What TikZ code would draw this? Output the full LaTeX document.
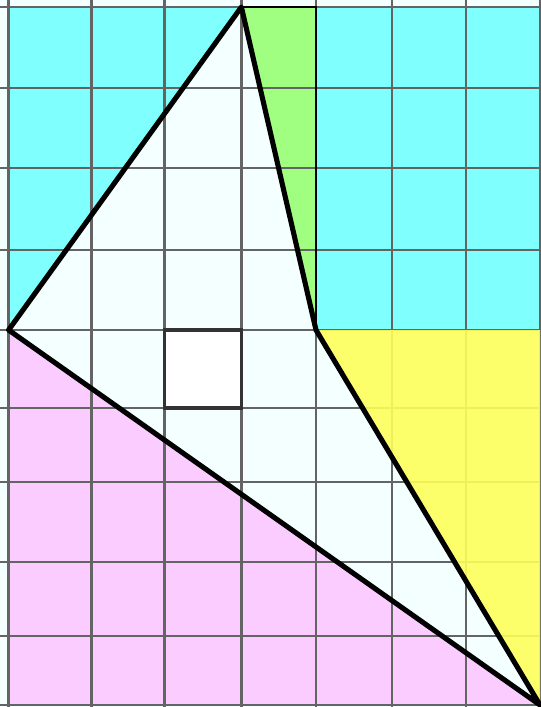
\documentclass[tikz,border=0pt]{standalone}
\usepackage{tikz}

\definecolor{bgazure}{RGB}{244,255,255}
\definecolor{cyanfill}{RGB}{128,255,255}
\definecolor{greenfill}{RGB}{160,255,128}
\definecolor{yellowfill}{RGB}{255,255,90}
\definecolor{pinkfill}{RGB}{250,204,255}
\definecolor{gridgray}{RGB}{100,100,100}

\tikzset{
  gridline/.style={gridgray,line width=1.4pt},
  cutline/.style={black,line width=2.9pt,line join=round},
  edgeline/.style={black,line width=1.4pt}
}

\begin{document}
\begin{tikzpicture}[x=0.02cm,y=-0.02cm]
			\useasboundingbox[fill=bgazure] (0,0) rectangle (541,707);
			
			% corner points
			\coordinate (O) at (8.6,705);
			\coordinate (L) at (8.6,330);
			\coordinate (T) at (241.4,7);
			\coordinate (K) at (316,330);
			\coordinate (R) at (540,705);
			
			\fill[cyanfill] (8.6,7) -- (T) -- (L) -- cycle;
			\fill[cyanfill] (K) rectangle (540,7);
			\fill[greenfill] (T) -- (316,7) -- (K) -- cycle;
			\fill[pinkfill] (L) -- (O) -- (R) -- cycle;
			\fill[white] (164.5,330) rectangle (241.4,408);
			
			\foreach \x in {8.6,91.4,164.5,241.4,316,392,466,540}
			\draw[gridline] (\x,0) -- (\x,707);
			\foreach \y in {7,88,168,250,330,408,482,562,636,705}
			\draw[gridline] (0,\y) -- (541,\y);
			
			\fill[yellowfill,opacity=0.9] (K) -- (540,330) -- (R) -- cycle;
			
			\draw[edgeline] (T) -- (316,7) -- (K);
			\draw[black!80,line width=2pt] (164.5,330) rectangle (241.4,408);
			\draw[cutline] (L) -- (T) -- (K) -- (R) -- cycle;
			\end{tikzpicture}
\end{document}
